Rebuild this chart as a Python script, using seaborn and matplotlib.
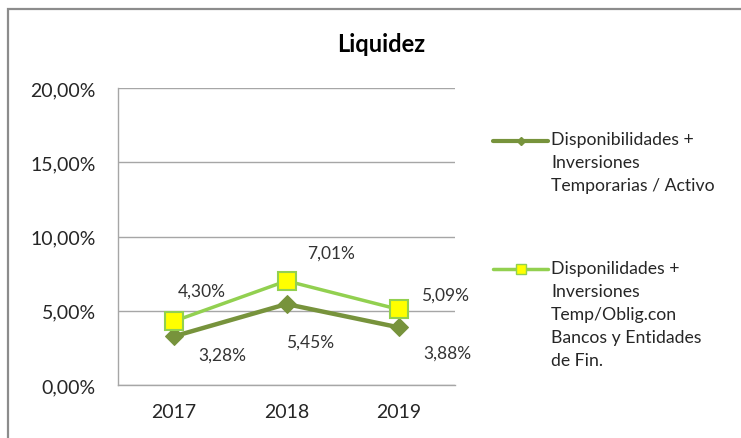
import matplotlib.pyplot as plt
import matplotlib.patches as patches
from matplotlib.lines import Line2D
import seaborn as sns
import pandas as pd

# Datos del gráfico
anios = ['2017', '2018', '2019']
disp_activo = [3.28, 5.45, 3.88]
disp_oblig = [4.30, 7.01, 5.09]
etiqueta_1 = 'Disponibilidades +\nInversiones\nTemporarias / Activo'
etiqueta_2 = 'Disponilidades +\nInversiones\nTemp/Oblig.con\nBancos y Entidades\nde Fin.'
yticks = [0, 5, 10, 15, 20]

df = pd.DataFrame({'anio': anios, 's1': disp_activo, 's2': disp_oblig})

sns.set_style('white')
plt.rcParams['font.family'] = ['Lato', 'DejaVu Sans']

verde_osc = '#77933C'
verde_cla = '#92D050'
gris = '#A6A6A6'

fig = plt.figure(figsize=(7.41, 4.39), dpi=100)
ax = fig.add_axes([118 / 741, 1 - 386 / 439, (455 - 118) / 741, (386 - 89) / 439])

sns.lineplot(x='anio', y='s1', data=df, ax=ax, color=verde_osc, linewidth=3.2,
             marker='D', markersize=9, markeredgecolor=verde_osc, zorder=3)
sns.lineplot(x='anio', y='s2', data=df, ax=ax, color=verde_cla, linewidth=2.5,
             marker='s', markersize=12.5, markerfacecolor='#FFFF00',
             markeredgecolor=verde_cla, markeredgewidth=1.5, zorder=4)

# etiquetas de datos (desplazamiento en puntos)
off1 = [(35, -13), (17, -27), (35, -18)]
off2 = [(20, 22), (32, 20), (33, 11)]
for i in range(len(anios)):
    ax.annotate(f'{disp_activo[i]:.2f}%'.replace('.', ','), (i, disp_activo[i]),
                xytext=off1[i], textcoords='offset points', ha='center', va='center',
                fontsize=12.5, color='#333333')
    ax.annotate(f'{disp_oblig[i]:.2f}%'.replace('.', ','), (i, disp_oblig[i]),
                xytext=off2[i], textcoords='offset points', ha='center', va='center',
                fontsize=12.5, color='#333333')

ax.set_xlim(-0.5, 2.5)
ax.set_ylim(0, 20)
ax.set_yticks(yticks)
ax.set_yticklabels([f'{v:.2f}%'.replace('.', ',') for v in yticks])
ax.set_xlabel('')
ax.set_ylabel('')
ax.grid(axis='y', color=gris, linewidth=1)
ax.tick_params(axis='both', length=0, labelsize=14, colors='#262626')
ax.tick_params(axis='y', pad=16)
ax.tick_params(axis='x', pad=13)
for s in ['top', 'right']:
    ax.spines[s].set_visible(False)
for s in ['left', 'bottom']:
    ax.spines[s].set_color(gris)
    ax.spines[s].set_linewidth(1)

fig.text(381 / 741, 1 - 45 / 439, 'Liquidez', ha='center', va='center',
         fontsize=17, fontweight='bold', color='#000000')

# leyenda manual
def clave(y_px, color, lw, marker, ms, mfc, mec):
    y = 1 - y_px / 439
    fig.add_artist(Line2D([493 / 741, 548 / 741], [y, y], transform=fig.transFigure,
                          color=color, linewidth=lw))
    fig.add_artist(Line2D([520.5 / 741], [y], transform=fig.transFigure, marker=marker,
                          markersize=ms, markerfacecolor=mfc, markeredgecolor=mec,
                          linestyle='none'))

clave(142, verde_osc, 3.0, 'D', 4, verde_osc, verde_osc)
clave(270, verde_cla, 2.5, 's', 7, '#FFFF00', verde_cla)
fig.text(551 / 741, 1 - 132 / 439, etiqueta_1, ha='left', va='top', fontsize=12.7,
         linespacing=1.53, color='#262626')
fig.text(551 / 741, 1 - 261 / 439, etiqueta_2, ha='left', va='top', fontsize=12.7,
         linespacing=1.53, color='#262626')

# borde del gráfico
fig.add_artist(patches.Rectangle((8 / 741, -0.1), 1.2, 1 - 10 / 439 + 0.1,
                                 transform=fig.transFigure, fill=False,
                                 edgecolor='#8C8C8C', linewidth=1.6))

fig.savefig('out.png', dpi=100)
